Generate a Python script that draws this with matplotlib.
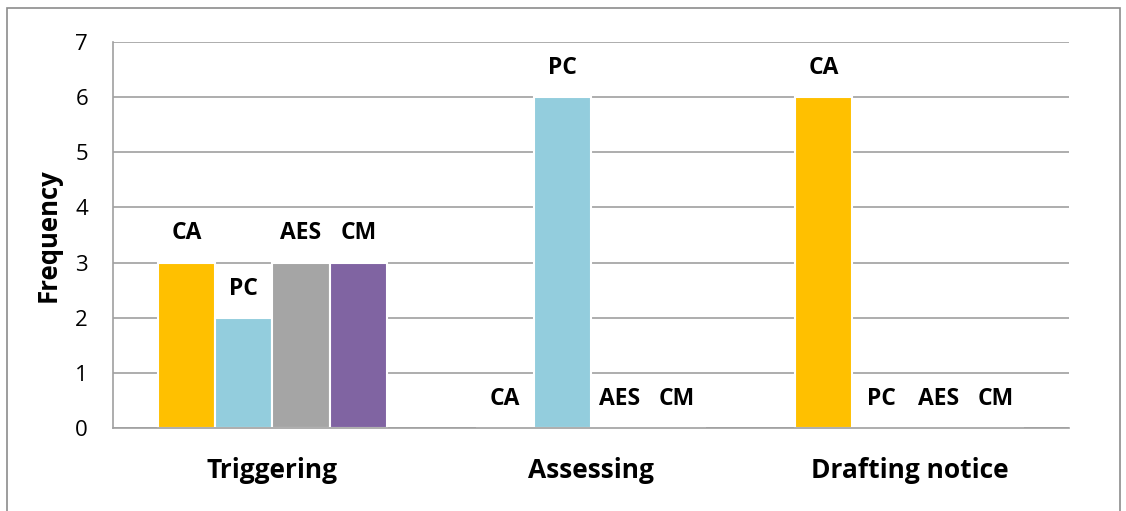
import numpy as np
import matplotlib
matplotlib.use("Agg")
import matplotlib.pyplot as plt
from matplotlib.patches import Rectangle

plt.rcParams['font.family'] = ['Open Sans', 'DejaVu Sans']

stages = ["Triggering", "Assessing", "Drafting notice"]
series = ["CA", "PC", "AES", "CM"]
ca = [3, 0, 6]
pc = [2, 6, 0]
aes = [3, 0, 0]
cm = [3, 0, 0]
colors = ["#FFC000", "#93CDDD", "#A5A5A5", "#8064A2"]

fig = plt.figure(figsize=(11.26, 5.11), dpi=100)
ax = fig.add_axes([0.1004, 0.1624, 0.849, 0.7554])

# outer frame around the whole chart
fig.patches.append(Rectangle((0.006, -0.02), 0.989, 1.005, transform=fig.transFigure,
                             fill=False, edgecolor="#8c8c8c", linewidth=1.2))

x = np.arange(len(stages))
w = 0.18
for i, (name, vals) in enumerate(zip(series, [ca, pc, aes, cm])):
    pos = x + (i - 1.5) * w
    ax.bar(pos, vals, width=w, color=colors[i], edgecolor="white", linewidth=1.5, zorder=3)
    for p, v in zip(pos, vals):
        ax.annotate(name, (p, v), xytext=(0, 21), textcoords="offset points",
                    ha="center", va="center", fontsize=16.5, fontweight="bold", zorder=4)

ax.set_xlim(-0.5, 2.5)
ax.set_ylim(0, 7)
ax.set_yticks(range(8))
ax.grid(axis="y", color="#a0a0a0", linewidth=1.2, zorder=0)
ax.set_xticks(x)
ax.set_xticklabels(stages, fontsize=19, fontweight="bold")
ax.tick_params(axis="x", length=0, pad=21)
ax.tick_params(axis="y", length=0, pad=18, labelsize=16)
for s in ["top", "right"]:
    ax.spines[s].set_visible(False)
for s in ["left", "bottom"]:
    ax.spines[s].set_color("#a0a0a0")
    ax.spines[s].set_linewidth(1.2)
    ax.spines[s].set_zorder(5)
ax.set_ylabel("Frequency", fontsize=18.5, fontweight="bold", labelpad=10)

fig.savefig("out.png", dpi=100)
